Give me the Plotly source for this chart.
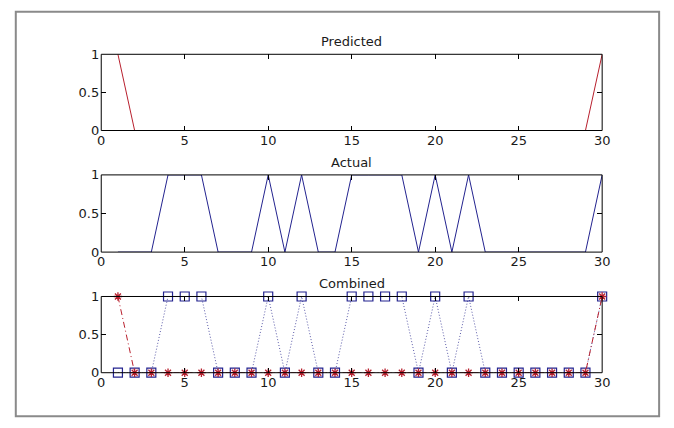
import plotly.graph_objects as go

x = list(range(1, 31))
predicted = [1] + [0] * 28 + [1]
actual = [0, 0, 0, 1, 1, 1, 0, 0, 0, 1,
          0, 1, 0, 0, 1, 1, 1, 1, 0, 1,
          0, 1, 0, 0, 0, 0, 0, 0, 0, 1]
titles = ["Predicted", "Actual", "Combined"]
xticks = [0, 5, 10, 15, 20, 25, 30]
yticks = [0, 0.5, 1]
ytick_text = ["0", "0.5", "1"]

RED = "#b8202e"
BLUE = "#23238f"
FONT = dict(family="DejaVu Sans, Liberation Sans, sans-serif", size=13, color="#1a1a1a")
W, H = 674, 428


def px_x(p):
    return p / W


def px_y(p):
    return 1 - p / H


xdom = [px_x(99), px_x(609)]
ydoms = [(px_y(128), px_y(49)), (px_y(254), px_y(174)), (px_y(379), px_y(300))]

fig = go.Figure()

# Subplot 1: predicted
fig.add_trace(go.Scatter(x=x, y=predicted, mode="lines",
                         line=dict(color=RED, width=1), xaxis="x", yaxis="y",
                         showlegend=False))
# Subplot 2: actual
fig.add_trace(go.Scatter(x=x, y=actual, mode="lines",
                         line=dict(color=BLUE, width=1), xaxis="x2", yaxis="y2",
                         showlegend=False))
# Subplot 3: combined
fig.add_trace(go.Scatter(x=x, y=actual, mode="lines+markers",
                         line=dict(color="#5a5aa8", width=1, dash="1px,2px"),
                         marker=dict(symbol="square-open", size=9,
                                     color=BLUE, line=dict(width=1.2, color=BLUE)),
                         cliponaxis=False, xaxis="x3", yaxis="y3", showlegend=False))
fig.add_trace(go.Scatter(x=x, y=predicted, mode="lines+markers",
                         line=dict(color=RED, width=1, dash="6px,3px,1px,3px"),
                         marker=dict(symbol="asterisk-open", size=7,
                                     color=RED, line=dict(width=1.3, color=RED)),
                         cliponaxis=False, xaxis="x3", yaxis="y3", showlegend=False))

axis_common = dict(showgrid=False, zeroline=False, showline=False,
                   mirror="allticks", ticks="inside", ticklen=5,
                   tickcolor="black", tickwidth=1, tickfont=FONT)

layout = dict(width=W, height=H, margin=dict(l=0, r=0, t=0, b=0),
              paper_bgcolor="white", plot_bgcolor="white", showlegend=False)

for i in range(3):
    sfx = "" if i == 0 else str(i + 1)
    layout["xaxis" + sfx] = dict(axis_common, domain=xdom, range=[0, 30],
                                 tickvals=xticks, ticktext=[str(t) for t in xticks],
                                 anchor="y" + sfx, ticklabelstandoff=0)
    layout["yaxis" + sfx] = dict(axis_common, domain=list(ydoms[i]), range=[0, 1],
                                 tickvals=yticks, ticktext=ytick_text,
                                 anchor="x" + sfx, ticklabelstandoff=1)

fig.update_layout(**layout)

for i, t in enumerate(titles):
    sfx = "" if i == 0 else str(i + 1)
    # axes box drawn above the traces so lines at 0/1 merge with it
    fig.add_shape(type="rect", xref="x" + sfx + " domain", yref="y" + sfx + " domain",
                  x0=0, x1=1, y0=0, y1=1, layer="above",
                  line=dict(color="black", width=1), fillcolor="rgba(0,0,0,0)")
    fig.add_annotation(text=t, xref="paper", yref="paper",
                       x=(xdom[0] + xdom[1]) / 2, y=ydoms[i][1],
                       xanchor="center", yanchor="bottom", yshift=3, showarrow=False,
                       font=FONT)

# outer figure frame
fig.add_shape(type="rect", xref="paper", yref="paper",
              x0=px_x(12), x1=px_x(667), y0=px_y(424), y1=px_y(5),
              line=dict(color="#8a8a8a", width=2), fillcolor="rgba(0,0,0,0)")

fig.write_html("out.html")
